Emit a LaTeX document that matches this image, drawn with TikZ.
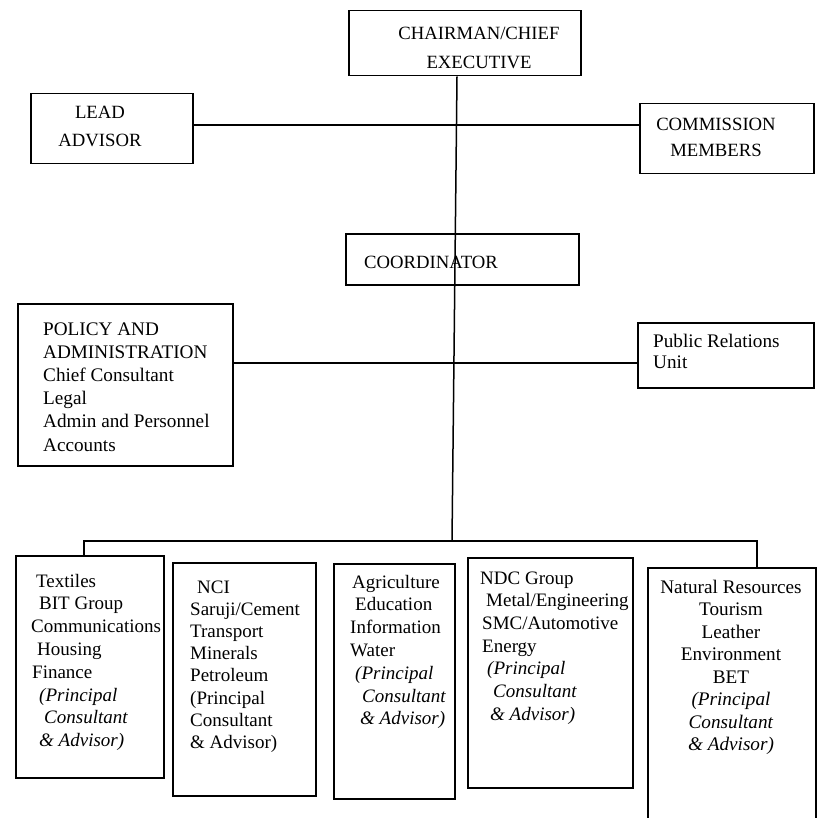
\documentclass[tikz,border=0pt]{standalone}
\usepackage{fontspec}
\setmainfont{Liberation Serif}
\begin{document}
\begin{tikzpicture}[x=1pt,y=-1pt,
  box/.style={draw, line width=1.5pt, inner sep=0pt, anchor=north west},
  lbl/.style={inner sep=0pt, anchor=base west},
  clbl/.style={inner sep=0pt, anchor=base},
  link/.style={line width=1.5pt}]
\useasboundingbox (0,0) rectangle (818,818);
\fill[white] (0,0) rectangle (818,818);

% ---- frames ----
\node[box, minimum width=232pt, minimum height=65pt]  (chair)  at (348,10)  {};
\node[box, minimum width=162pt, minimum height=70pt]  (lead)   at (30,93)   {};
\node[box, minimum width=174pt, minimum height=70pt]  (comm)   at (639,103) {};
\node[box, minimum width=233pt, minimum height=51pt]  (coord)  at (345,233) {};
\node[box, minimum width=215pt, minimum height=162pt] (policy) at (17,303)  {};
\node[box, minimum width=176pt, minimum height=65pt]  (pr)     at (637,322) {};
\node[box, minimum width=148pt, minimum height=222pt] (b1)     at (15,555)  {};
\node[box, minimum width=143pt, minimum height=233pt] (b2)     at (172,562) {};
\node[box, minimum width=121pt, minimum height=235pt] (b3)     at (333,563) {};
\node[box, minimum width=165pt, minimum height=230pt] (b4)     at (467,557) {};
\node[box, minimum width=168pt, minimum height=270pt] (b5)     at (647,567) {};

% ---- labels ----
\node[clbl, font=\fontsize{18.7}{29}\selectfont] (chairT) at (479,40)
  {\begin{tabular}[t]{@{}c@{}}CHAIRMAN/CHIEF\\EXECUTIVE\end{tabular}};
\node[clbl, font=\fontsize{18.7}{28}\selectfont] (leadT) at (100,119)
  {\begin{tabular}[t]{@{}c@{}}LEAD\\ADVISOR\end{tabular}};
\node[clbl, font=\fontsize{18.7}{26}\selectfont] (commT) at (716,131)
  {\begin{tabular}[t]{@{}c@{}}COMMISSION\\MEMBERS\end{tabular}};
\node[clbl, font=\fontsize{18.7}{23}\selectfont] (coordT) at (431,268) {COORDINATOR};
\node[lbl, font=\fontsize{19.2}{23.2}\selectfont] (policyT) at (43,335)
  {\begin{tabular}[t]{@{}l@{}}POLICY AND\\ADMINISTRATION\\Chief Consultant\\Legal\\
   Admin and Personnel\\Accounts\end{tabular}};
\node[lbl, font=\fontsize{19.2}{21}\selectfont] (prT) at (653,347)
  {\begin{tabular}[t]{@{}l@{}}Public Relations\\Unit\end{tabular}};

\node[lbl, font=\fontsize{19}{22.8}\selectfont] (b1T) at (31,587)
  {\begin{tabular}[t]{@{}l@{}}\hspace*{5pt}Textiles\\\hspace*{8pt}BIT Group\\Communications\\
   \hspace*{6pt}Housing\\\hspace*{1pt}Finance\\\hspace*{8pt}\textit{(Principal}\\
   \hspace*{13pt}\textit{Consultant}\\\hspace*{8pt}\textit{\& Advisor)}\end{tabular}};
\node[lbl, font=\fontsize{19}{22.2}\selectfont] (b2T) at (190,593)
  {\begin{tabular}[t]{@{}l@{}}\hspace*{7pt}NCI\\Saruji/Cement\\Transport\\Minerals\\
   Petroleum\\(Principal\\Consultant\\\& Advisor)\end{tabular}};
\node[lbl, font=\fontsize{19}{22.8}\selectfont] (b3T) at (350,588)
  {\begin{tabular}[t]{@{}l@{}}\hspace*{2pt}Agriculture\\\hspace*{5pt}Education\\Information\\
   Water\\\hspace*{5pt}\textit{(Principal}\\\hspace*{12pt}\textit{Consultant}\\
   \hspace*{10pt}\textit{\& Advisor)}\end{tabular}};
\node[lbl, font=\fontsize{19}{22.7}\selectfont] (b4T) at (480,584)
  {\begin{tabular}[t]{@{}l@{}}NDC Group\\\hspace*{6pt}Metal/Engineering\\
   \hspace*{2pt}SMC/Automotive\\\hspace*{2pt}Energy\\\hspace*{7pt}\textit{(Principal}\\
   \hspace*{13pt}\textit{Consultant}\\\hspace*{10pt}\textit{\& Advisor)}\end{tabular}};
\node[clbl, font=\fontsize{19.2}{22.5}\selectfont] (b5T) at (731,593)
  {\begin{tabular}[t]{@{}c@{}}Natural Resources\\Tourism\\Leather\\Environment\\BET\\
   \textit{(Principal}\\\textit{Consultant}\\\textit{\& Advisor)}\end{tabular}};

% ---- connectors ----
\coordinate (spineTop) at (457,75);
\coordinate (busMid) at (452,541);
\coordinate (busL) at (84,541);
\coordinate (busR) at (757,541);
\coordinate (rowA) at (457,125);
\coordinate (rowB) at (454,363);

\draw[link] (chair.south -| spineTop) -- (busMid);
\draw[link] (lead.east |- rowA) -- (comm.west |- rowA);
\draw[link] (policy.east |- rowB) -- (pr.west |- rowB);
\draw[link] (b1.north -| busL) -- (busL) -- (busR) -- (b5.north -| busR);
\end{tikzpicture}
\end{document}
